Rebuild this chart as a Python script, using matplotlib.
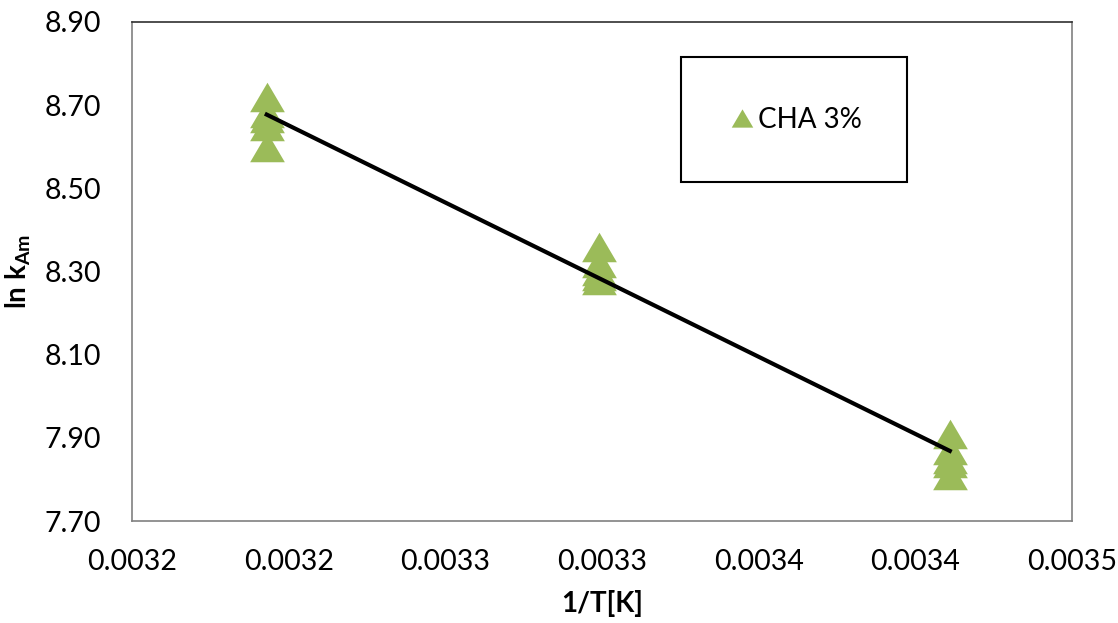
import numpy as np
import matplotlib.pyplot as plt
from matplotlib.patches import Rectangle

plt.rcParams['font.family'] = ['Lato', 'DejaVu Sans']
plt.rcParams['mathtext.fontset'] = 'custom'
plt.rcParams['mathtext.rm'] = 'Lato'
plt.rcParams['mathtext.bf'] = 'Lato:bold'

# 1/T for 40, 30 and 20 degC, five replicate ln k values at each
inv_T = [0.003193, 0.003299, 0.003411]
lnk_40 = [8.72, 8.68, 8.67, 8.65, 8.60]
lnk_30 = [8.36, 8.32, 8.30, 8.29, 8.28]
lnk_20 = [7.91, 7.87, 7.85, 7.84, 7.81]

x_ticks = [0.00315, 0.00320, 0.00325, 0.00330, 0.00335, 0.00340, 0.00345]
x_labels = ["0.0032", "0.0032", "0.0033", "0.0033", "0.0034", "0.0034", "0.0035"]
y_ticks = [7.70, 7.90, 8.10, 8.30, 8.50, 8.70, 8.90]

green = "#9bbb59"
tri = [(-1, -0.85), (1, -0.85), (0, 0.85)]

x_all = np.repeat(inv_T, 5)
y_all = np.concatenate([lnk_40, lnk_30, lnk_20])

fig = plt.figure(figsize=(11.18, 6.23), dpi=100)
ax = fig.add_axes([132 / 1118, 1 - 521 / 623, 940 / 1118, 499 / 623])

ax.plot(x_all, y_all, linestyle="none", marker=tri, markersize=25,
        color=green, markeredgewidth=0, label="CHA 3%", zorder=2)

# linear trendline
slope, icpt = np.polyfit(x_all, y_all, 1)
xl = np.array([min(inv_T), max(inv_T)])
ax.plot(xl, slope * xl + icpt, color="black", linewidth=3, zorder=3)

ax.set_xlim(0.00315, 0.00345)
ax.set_ylim(7.70, 8.90)
ax.set_xticks(x_ticks)
ax.set_xticklabels(x_labels)
ax.set_yticks(y_ticks)
ax.set_yticklabels([f"{v:.2f}" for v in y_ticks])
ax.tick_params(length=0, labelsize=20.5)
ax.tick_params(axis="x", pad=20)
ax.tick_params(axis="y", pad=22)

for s in ax.spines.values():
    s.set_color("#808080")
    s.set_linewidth(1.2)
ax.spines["top"].set_color("#303030")

ax.set_xlabel("1/T[K]", fontsize=20, fontweight="bold")
ax.xaxis.set_label_coords(0.5, -0.138)
ax.set_ylabel(r"ln k$_{\mathbf{Am}}$", fontsize=20, fontweight="bold")
ax.yaxis.set_label_coords(-0.105, 0.5)

# legend box
fig.patches.append(Rectangle((681 / 1118, 1 - 182 / 623), 226 / 1118, 125 / 623,
                             transform=fig.transFigure, fill=False,
                             edgecolor="black", linewidth=1.5))
fig.legend(loc="center", bbox_to_anchor=(797 / 1118, 1 - 120 / 623),
           frameon=False, fontsize=20, markerscale=0.62,
           handlelength=0.7, handletextpad=0.25)

fig.savefig("out.png", dpi=100)
